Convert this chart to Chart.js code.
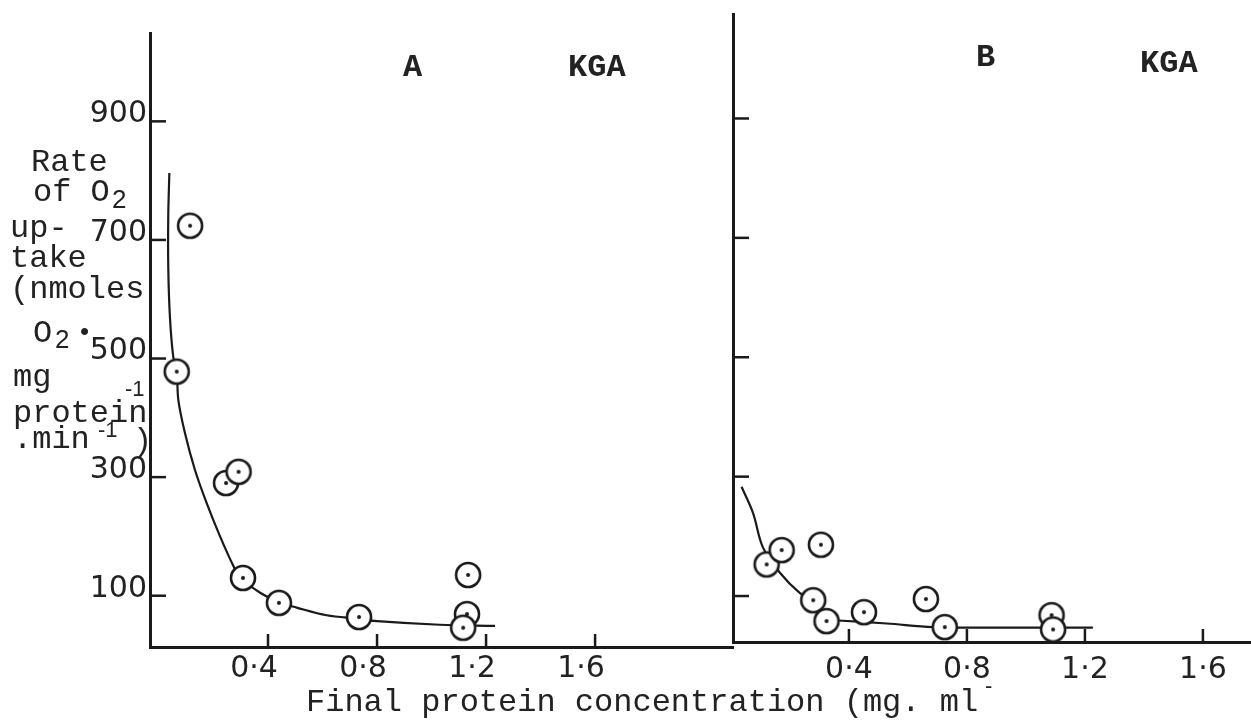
<!DOCTYPE html>
<html>
<head>
<meta charset="utf-8">
<script src="https://cdn.jsdelivr.net/npm/chart.js@4.4.1/dist/chart.umd.min.js"></script>
<style>
  html, body { margin: 0; padding: 0; background: #fff; }
  #wrap { position: relative; width: 1251px; height: 726px; }
  #wrap canvas { position: absolute; left: 0; top: 0; }
</style>
</head>
<body>
<div id="wrap">
  <canvas id="chartA" width="1251" height="726"></canvas>
  <canvas id="chartB" width="1251" height="726"></canvas>
</div>
<script>
// values (protein conc. in mg/ml, rate in nmoles O2/mg/min)
var xTicks = [0.4, 0.8, 1.2, 1.6];
var xTickLabels = ['0·4', '0·8', '1·2', '1·6'];
var yTicks = [100, 300, 500, 700, 900];
var yTickLabels = ['100', '300', '500', '700', '900'];

// panel A - measured points
var pointsAx = [0.114, 0.065, 0.246, 0.292, 0.308, 0.440, 0.734, 1.134, 1.130, 1.116];
var pointsAy = [724, 478, 290, 309, 130, 88, 64, 135, 69, 46];
// panel A - hand drawn curve
var curveAx = [0.038, 0.034, 0.034, 0.040, 0.052, 0.065, 0.071, 0.095, 0.132, 0.175, 0.224, 0.273, 0.297, 0.371, 0.440, 0.505, 0.615, 0.734, 0.800, 1.030, 1.233];
var curveAy = [813, 740, 655, 571, 504, 478, 430, 375, 312, 256, 200, 150, 131, 105, 89, 80, 67, 61, 57, 51, 49];

// panel B - measured points
var pointsBx = [0.121, 0.172, 0.305, 0.279, 0.324, 0.451, 0.661, 0.725, 1.087, 1.092];
var pointsBy = [153, 177, 186, 93, 58, 73, 95, 48, 68, 44];
// panel B - hand drawn curve
var curveBx = [0.036, 0.075, 0.108, 0.166, 0.234, 0.279, 0.324, 0.363, 0.528, 0.685, 0.850, 1.036, 1.227];
var curveBy = [283, 239, 182, 139, 105, 93, 60, 59, 54, 48, 47, 47, 47];

var INK = '#1a1a1a';

function pairs(xs, ys){
  return xs.map(function(x, i){ return { x: x, y: ys[i] }; });
}

// open circle with a dot in the middle
function ringDot(){
  var c = document.createElement('canvas');
  c.width = 30; c.height = 30;
  var g = c.getContext('2d');
  g.beginPath(); g.arc(15, 15, 12, 0, Math.PI * 2);
  g.fillStyle = '#fff'; g.fill();
  g.lineWidth = 2.6; g.strokeStyle = INK; g.stroke();
  g.beginPath(); g.arc(15, 15, 2, 0, Math.PI * 2);
  g.fillStyle = INK; g.fill();
  return c;
}

// tick marks are drawn inside the plot, as on the original
var inwardTicks = {
  id: 'inwardTicks',
  afterDatasetsDraw: function(chart){
    var ctx = chart.ctx, sx = chart.scales.x, sy = chart.scales.y, a = chart.chartArea;
    ctx.save();
    ctx.strokeStyle = INK;
    ctx.lineWidth = 2.5;
    xTicks.forEach(function(v){
      var px = sx.getPixelForValue(v);
      ctx.beginPath(); ctx.moveTo(px, a.bottom); ctx.lineTo(px, a.bottom - 13); ctx.stroke();
    });
    yTicks.forEach(function(v){
      var py = sy.getPixelForValue(v);
      ctx.beginPath(); ctx.moveTo(a.left, py); ctx.lineTo(a.left + 16, py); ctx.stroke();
    });
    ctx.restore();
  }
};

// typewritten captions of the figure
var captions = {
  id: 'captions',
  afterDraw: function(chart){
    var ctx = chart.ctx;
    ctx.save();
    ctx.fillStyle = '#222';
    ctx.textBaseline = 'alphabetic';
    ctx.font = 'bold 32px "Liberation Mono"';
    ctx.fillText('A', 403, 76);
    ctx.fillText('KGA', 568, 76);
    ctx.fillText('B', 976, 66);
    ctx.fillText('KGA', 1140, 72);

    ctx.font = '32px "Liberation Mono"';
    ctx.fillText('Rate', 31, 171);
    ctx.fillText('of O', 33, 201);
    ctx.fillText('up-', 10, 237);
    ctx.fillText('take', 10, 267);
    ctx.fillText('(nmoles', 10, 298);
    ctx.fillText('O', 33, 342);
    ctx.fillText('mg', 13, 386);
    ctx.fillText('protein', 13, 422);
    ctx.fillText('.min', 13, 448);
    ctx.fillText(')', 133, 450);
    ctx.fillText('Final protein concentration (mg. ml', 306, 711);

    ctx.font = '26px "Liberation Sans"';
    ctx.fillText('2', 112, 208);
    ctx.fillText('2', 55, 348);
    ctx.fillText('•', 80, 340);
    ctx.font = '22px "Liberation Sans"';
    ctx.fillText('-1', 125, 396);
    ctx.fillText('-1', 98, 437);
    ctx.fillText('-', 985, 693);
    ctx.restore();
  }
};

function makePanel(id, p){
  return new Chart(document.getElementById(id), {
    type: 'scatter',
    data: {
      datasets: [
        { data: pairs(p.ptsX, p.ptsY), pointStyle: ringDot(), pointRadius: 12, order: 0 },
        { data: pairs(p.curX, p.curY), showLine: true, pointRadius: 0, borderColor: INK,
          borderWidth: 2.2, tension: 0.35, fill: false, order: 1 }
      ]
    },
    options: {
      responsive: false,
      animation: false,
      events: [],
      layout: { autoPadding: false, padding: { top: p.top, right: p.right, left: 0, bottom: 0 } },
      plugins: { legend: { display: false }, tooltip: { enabled: false } },
      scales: {
        x: {
          type: 'linear', min: p.xMin, max: p.xMax,
          afterFit: function(s){ s.height = p.xHeight; s.paddingLeft = 0; s.paddingRight = 0; },
          afterBuildTicks: function(s){ s.ticks = xTicks.map(function(v){ return { value: v }; }); },
          grid: { display: false, drawTicks: false },
          border: { display: true, color: INK, width: 3 },
          ticks: {
            autoSkip: false, maxRotation: 0, padding: p.xPad, labelOffset: p.xLabelOffset,
            color: '#222', font: { family: '"DejaVu Sans"', size: 30 },
            callback: function(v){ var i = xTicks.indexOf(v); return i < 0 ? '' : xTickLabels[i]; }
          }
        },
        y: {
          type: 'linear', min: p.yMin, max: p.yMax,
          afterFit: function(s){ s.width = p.yWidth; s.paddingTop = 0; s.paddingBottom = 0; },
          afterBuildTicks: function(s){ s.ticks = yTicks.map(function(v){ return { value: v }; }); },
          grid: { display: false, drawTicks: false },
          border: { display: true, color: INK, width: 3 },
          ticks: {
            display: p.yLabels, padding: 3, labelOffset: -7,
            color: '#222', font: { family: '"DejaVu Sans"', size: 30 },
            callback: function(v){ var i = yTicks.indexOf(v); return i < 0 ? '' : yTickLabels[i]; }
          }
        }
      }
    },
    plugins: p.plugins
  });
}

makePanel('chartA', {
  ptsX: pointsAx, ptsY: pointsAy, curX: curveAx, curY: curveAy,
  top: 33, right: 518, xHeight: 79, yWidth: 150,
  xMin: -0.033, xMax: 2.106, yMin: 13.5, yMax: 1049,
  xPad: 4, xLabelOffset: -14, yLabels: true,
  plugins: [inwardTicks, captions]
});

makePanel('chartB', {
  ptsX: pointsBx, ptsY: pointsBy, curX: curveBx, curY: curveBy,
  top: 14, right: 0, xHeight: 84, yWidth: 733,
  xMin: 0.007, xMax: 1.763, yMin: 23, yMax: 1075,
  xPad: 10, xLabelOffset: 0, yLabels: false,
  plugins: [inwardTicks]
});
</script>
</body>
</html>
